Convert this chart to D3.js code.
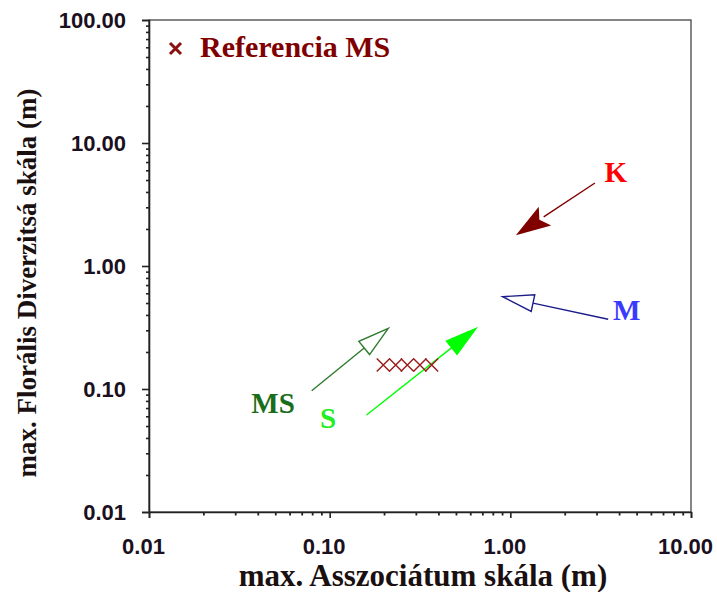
<!DOCTYPE html>
<html><head><meta charset="utf-8">
<script src="https://cdn.jsdelivr.net/npm/d3@7/dist/d3.min.js"></script>
<style>html,body{margin:0;padding:0;background:#fff;}svg{display:block;}</style>
</head><body>
<div id="chart"></div>
<script>
const xTicks = [0.01, 0.1, 1, 10];
const yTicks = [0.01, 0.1, 1, 10, 100];
const tickFormat = d => d.toFixed(2);

// arrows: tail -> head, in data units
const arrowNames = ["K", "M", "MS", "S"];
const arrowTail = [[2.94, 4.73], [3.48, 0.369], [0.0795, 0.0968], [0.160, 0.0614]];
const arrowHead = [[1.10, 1.82], [0.907, 0.563], [0.211, 0.311], [0.646, 0.311]];
const arrowLine = ["#800000", "#1c1c8a", "#2e7a2e", "#00ff00"];
const arrowFilled = [true, false, false, true];
const labelPos = [[3.83, 5.84], [4.41, 0.438], [0.0486, 0.0769], [0.0979, 0.058]];
const labelColor = ["#ff0000", "#3a3aff", "#1a6e1a", "#22ee22"];

// Referencia MS points
const refX = [0.198, 0.232, 0.269, 0.316, 0.367];
const refY = [0.157, 0.157, 0.157, 0.157, 0.157];

const W = 717, H = 592;
const svg = d3.select("#chart").append("svg").attr("width", W).attr("height", H);

const x = d3.scaleLog().domain([0.01, 10]).range([149, 691]);
const y = d3.scaleLog().domain([0.01, 100]).range([512, 20]);
const serif = "Liberation Serif, Times New Roman, serif";

// frame
svg.append("rect").attr("x", 149).attr("y", 20).attr("width", 542).attr("height", 492)
  .attr("fill", "none").attr("stroke", "#444").attr("stroke-width", 1.3);

function minorTicks(dom) {
  const out = [];
  for (let e = Math.log10(dom[0]); e < Math.log10(dom[1]) - 1e-9; e++) {
    for (let m = 2; m <= 9; m++) out.push(m * Math.pow(10, e));
  }
  return out;
}

const xAxis = d3.axisBottom(x).tickValues(xTicks).tickFormat(tickFormat).tickSize(6).tickPadding(20);
const gx = svg.append("g").attr("transform", "translate(0,512)").call(xAxis);
const yAxis = d3.axisLeft(y).tickValues(yTicks).tickFormat(tickFormat).tickSize(7).tickPadding(16);
const gy = svg.append("g").attr("transform", "translate(149,0)").call(yAxis);
[gx, gy].forEach(g => {
  g.select(".domain").attr("stroke", "#222").attr("stroke-width", 1.6);
  g.selectAll(".tick line").attr("stroke", "#222").attr("stroke-width", 1.6);
  g.selectAll(".tick text").attr("font-family", "Liberation Sans, Arial, sans-serif")
    .attr("font-weight", "bold").attr("font-size", 22).attr("fill", "#1a1020");
});
gx.selectAll(".tick text").attr("x", -6);
// minor ticks
svg.append("g").attr("transform", "translate(0,512)")
  .call(d3.axisBottom(x).tickValues(minorTicks(x.domain())).tickFormat("").tickSize(3.5))
  .call(g => { g.select(".domain").remove(); g.selectAll("line").attr("stroke", "#222").attr("stroke-width", 1.8); });
svg.append("g").attr("transform", "translate(149,0)")
  .call(d3.axisLeft(y).tickValues(minorTicks(y.domain())).tickFormat("").tickSize(3))
  .call(g => { g.select(".domain").remove(); g.selectAll("line").attr("stroke", "#222").attr("stroke-width", 1.6); });

// axis titles
svg.append("text").attr("x", 423).attr("y", 586).attr("text-anchor", "middle")
  .attr("font-family", serif).attr("font-weight", "bold")
  .attr("font-size", 31).attr("fill", "#1a1010").text("max. Asszociátum skála (m)");
svg.append("text").attr("transform", "translate(36,283) rotate(-90)").attr("text-anchor", "middle")
  .attr("font-family", serif).attr("font-weight", "bold")
  .attr("font-size", 27).attr("fill", "#1a1010").text("max. Florális Diverzitsá skála (m)");

// arrows
arrowNames.forEach((name, i) => {
  const x0 = x(arrowTail[i][0]), y0 = y(arrowTail[i][1]);
  const x1 = x(arrowHead[i][0]), y1 = y(arrowHead[i][1]);
  const dx = x1 - x0, dy = y1 - y0, L = Math.hypot(dx, dy);
  const ux = dx / L, uy = dy / L, px = -uy, py = ux;
  const hl = 31, hw = i === 0 ? 10 : 8.5;
  const bx = x1 - ux * hl, by = y1 - uy * hl;
  svg.append("line").attr("x1", x0).attr("y1", y0).attr("x2", bx).attr("y2", by)
    .attr("stroke", arrowLine[i]).attr("stroke-width", 1.4);
  const notch = i === 0 ? 6 : 0;
  const pts = [[x1, y1], [bx + px * hw, by + py * hw], [bx + ux * notch, by + uy * notch], [bx - px * hw, by - py * hw]];
  svg.append("polygon").attr("points", pts.map(p => p.join(",")).join(" "))
    .attr("fill", arrowFilled[i] ? arrowLine[i] : "#fff")
    .attr("stroke", arrowLine[i]).attr("stroke-width", 1.4);
  svg.append("text").attr("x", x(labelPos[i][0])).attr("y", y(labelPos[i][1]))
    .attr("text-anchor", "middle").attr("dominant-baseline", "central")
    .attr("font-family", serif).attr("font-weight", "bold")
    .attr("font-size", 29).attr("fill", labelColor[i]).text(name);
});

// reference markers
const s = 6.5;
refX.forEach((v, i) => {
  const cx = x(v), cy = y(refY[i]);
  svg.append("path").attr("d", `M${cx - s},${cy - s}L${cx + s},${cy + s}M${cx - s},${cy + s}L${cx + s},${cy - s}`)
    .attr("stroke", "#9a1a1a").attr("stroke-width", 1.4).attr("fill", "none");
});

// legend
const lg = svg.append("g");
lg.append("path").attr("d", "M170,43L181,54M170,54L181,43").attr("stroke", "#8b1010").attr("stroke-width", 3);
lg.append("text").attr("x", 200).attr("y", 57)
  .attr("font-family", serif).attr("font-weight", "bold")
  .attr("font-size", 30).attr("fill", "#800000").text("Referencia MS");
</script>
</body></html>
